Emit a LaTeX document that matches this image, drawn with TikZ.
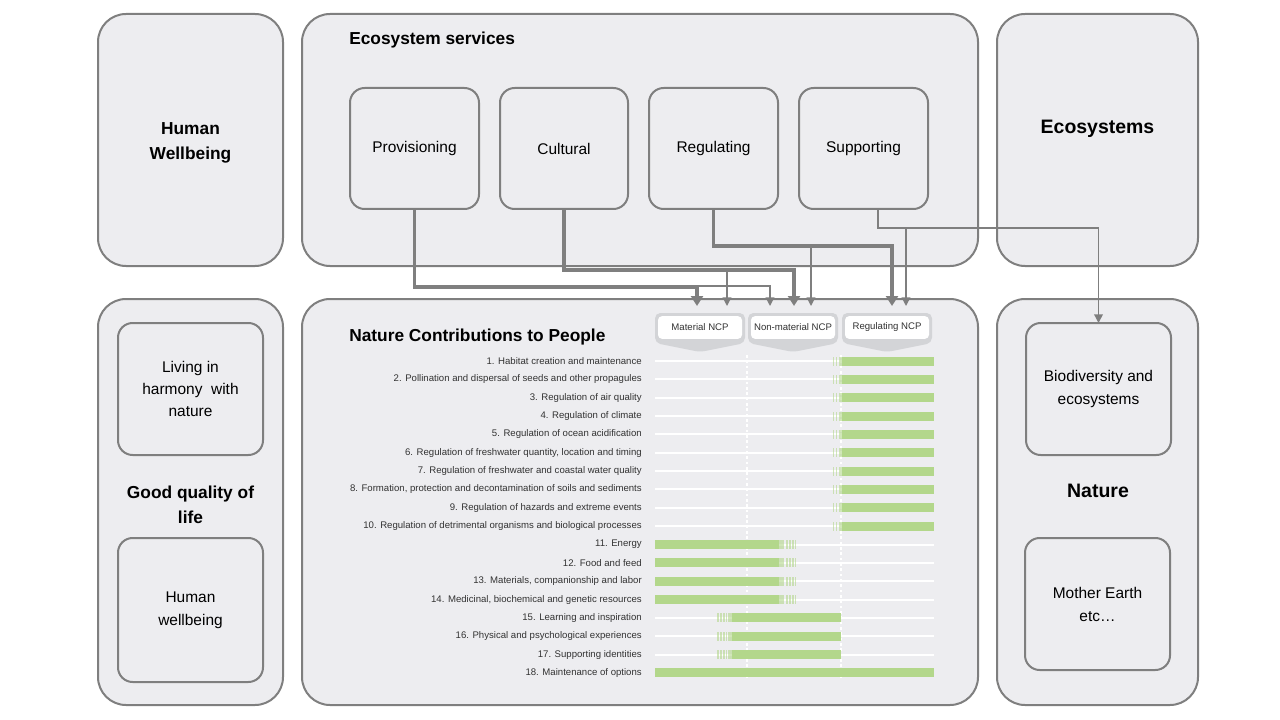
\documentclass[tikz,border=0pt]{standalone}
\usepackage{fontspec}
\setmainfont{Liberation Sans}
\usetikzlibrary{arrows.meta,calc}

\definecolor{boxgray}{RGB}{237,237,240}
\definecolor{linegray}{RGB}{127,127,127}
\definecolor{tabgray}{RGB}{211,212,215}
\definecolor{ncpgreen}{RGB}{179,215,139}
\definecolor{labgray}{RGB}{50,50,50}

\tikzset{
	bigbox/.style={draw=linegray, fill=boxgray, line width=1.5pt, rounded corners=21pt, outer sep=0pt, inner sep=0pt},
	inbox/.style={draw=linegray, fill=boxgray, line width=1.5pt, rounded corners=11pt, outer sep=0pt, inner sep=2pt, align=center, font=\fontsize{11.6}{16.5}\selectfont},
	headtext/.style={font=\bfseries\fontsize{13}{18.75}\selectfont, align=center, inner sep=0pt},
	maintext/.style={font=\bfseries\fontsize{14.6}{18}\selectfont, inner sep=0pt},
	ncplabel/.style={anchor=east, inner sep=0pt, text=labgray, font=\fontsize{7.2}{8}\selectfont},
	ncptab/.style={fill=white, rounded corners=3pt, minimum width=63pt, minimum height=17pt, inner sep=0pt, text=labgray, font=\fontsize{7.2}{8}\selectfont},
	flowthick/.style={draw=linegray, line width=2.6pt, -{Triangle[width=9pt,length=7.5pt]}},
	flowthin/.style={draw=linegray, line width=1.1pt, -{Triangle[width=6.5pt,length=6.5pt]}},
	rowline/.style={draw=white, line width=1.5pt},
	greenbar/.style={fill=ncpgreen},
	greenfade/.style={fill=ncpgreen, fill opacity=0.6}
}

\begin{document}
\begin{tikzpicture}[x=0.75pt,y=0.75pt,yscale=-1,xscale=1]
	\useasboundingbox (0,0) rectangle (1280,720);
	
	%Shape: big boxes
	\node[bigbox, minimum width=138.75pt, minimum height=189pt] (hwb) at (190.5,140) {};
	\node[bigbox, minimum width=507pt, minimum height=189pt] (ess) at (640,140) {};
	\node[bigbox, minimum width=150.75pt, minimum height=189pt] (eco) at (1097.5,140) {};
	\node[bigbox, minimum width=138.75pt, minimum height=304.5pt] (gql) at (190.5,502) {};
	\node[bigbox, minimum width=507pt, minimum height=304.5pt] (ncp) at (640,502) {};
	\node[bigbox, minimum width=150.75pt, minimum height=304.5pt] (nat) at (1097.5,502) {};
	
	% Text Node
	\node[headtext] (hwbt) at (190.5,142.5) {Human\\Wellbeing};
	\node[headtext, anchor=west] (esst) at (349,40) {Ecosystem services};
	\node[maintext] (ecot) at (1097.5,129) {Ecosystems};
	\node[headtext] (gqlt) at (190.5,505) {Good quality of\\life};
	\node[headtext, anchor=west] (ncpt) at (349,337) {Nature Contributions to People};
	\node[maintext] (natt) at (1098,490.5) {Nature};
	
	%Shape: inner boxes
	\node[inbox, minimum width=96.75pt, minimum height=90.75pt] (prov) at (414.5,148.5) {Provisioning};
	\node[inbox, minimum width=96pt, minimum height=90.75pt] (cult) at (564,148.5) {Cultural};
	\node[inbox, minimum width=96.75pt, minimum height=90.75pt] (regu) at (713.5,148.5) {Regulating};
	\node[inbox, minimum width=96.75pt, minimum height=90.75pt] (supp) at (863.5,148.5) {Supporting};
	\node[inbox, minimum width=108.75pt, minimum height=99pt] (liv) at (190.5,389) {Living in\\harmony \ with\\nature};
	\node[inbox, minimum width=108.75pt, minimum height=108pt, font=\fontsize{11.6}{17.25}\selectfont] (hwi) at (190.5,610) {Human\\wellbeing};
	\node[inbox, minimum width=108.75pt, minimum height=99pt, font=\fontsize{11.6}{17.25}\selectfont] (bio) at (1098.5,389) {Biodiversity and\\ecosystems};
	\node[inbox, minimum width=108.75pt, minimum height=99pt, font=\fontsize{11.6}{17.25}\selectfont] (mot) at (1097.5,604) {Mother Earth\\etc\dots};
	
	%Shape: NCP tabs
	\fill[tabgray, rounded corners=4pt] (655,343) -- (655,313) -- (745,313) -- (745,343) -- (700,352) -- cycle;
	\fill[tabgray, rounded corners=4pt] (748,343) -- (748,313) -- (838,313) -- (838,343) -- (793,352) -- cycle;
	\fill[tabgray, rounded corners=4pt] (842,343) -- (842,313) -- (932,313) -- (932,343) -- (887,352) -- cycle;
	\node[ncptab] (matncp) at (700,327.5) {Material NCP};
	\node[ncptab] (nonncp) at (793,327.5) {Non-material NCP};
	\node[ncptab] (regncp) at (887,327.5) {Regulating NCP};
	
	% arrow ends above the tabs
	\coordinate (inM1) at (697,306);
	\coordinate (inM2) at (727,306);
	\coordinate (inN1) at (770,306);
	\coordinate (inN2) at (794,306);
	\coordinate (inN3) at (811,306);
	\coordinate (inR1) at (892,306);
	\coordinate (inR2) at (906,306);
	
	%Curve Lines: services to NCP
	\draw[flowthin] ($(prov.south)+(0,77)$) -| (inN1);
	\draw[flowthick] (prov.south) -- ++(0,78) -| (inM1);
	\draw[flowthin] (cult.south) ++(0,61) -| (inM2);
	\draw[flowthick] (cult.south) -- ++(0,61) -| (inN2);
	\draw[flowthin] (regu.south) ++(0,37) -| (inN3);
	\draw[flowthick] (regu.south) -- ++(0,37) -| (inR1);
	\draw[flowthin] ($(supp.south)+(14.5,0)$) -- ++(0,19) -| (bio.north);
	\draw[flowthin] ($(supp.south)+(14.5,0)$) ++(0,19) -| (inR2);
	
	%Straight Lines: chart grid
	\foreach \r in {1,...,18}
		\draw[rowline] (655,{361+(\r-1)*18.35}) -- (934,{361+(\r-1)*18.35});
	\draw[white, line width=1.2pt, dash pattern=on 2pt off 2pt] (747,355) -- (747,680);
	\draw[white, line width=1.2pt, dash pattern=on 2pt off 2pt] (841,355) -- (841,680);
	
	%Shape: green bars
	\foreach \r in {1,...,10} {
		\fill[greenbar] (842,{356.5+(\r-1)*18.35}) rectangle (934,{365.5+(\r-1)*18.35});
		\fill[greenfade] (838.5,{356.5+(\r-1)*18.35}) rectangle (842,{365.5+(\r-1)*18.35});
		\fill[greenfade] (835.5,{356.5+(\r-1)*18.35}) rectangle (837.2,{365.5+(\r-1)*18.35});
		\fill[greenfade] (832.5,{356.5+(\r-1)*18.35}) rectangle (834.2,{365.5+(\r-1)*18.35});
	}
	\foreach \r in {11,...,14} {
		\fill[greenbar] (655,{356.5+(\r-1)*18.35}) rectangle (779,{365.5+(\r-1)*18.35});
		\fill[greenfade] (779,{356.5+(\r-1)*18.35}) rectangle (784,{365.5+(\r-1)*18.35});
		\foreach \s in {786,789,792,794.5}
			\fill[greenfade] (\s,{356.5+(\r-1)*18.35}) rectangle (\s+1.5,{365.5+(\r-1)*18.35});
	}
	\foreach \r in {15,...,17} {
		\fill[greenbar] (732,{356.5+(\r-1)*18.35}) rectangle (841,{365.5+(\r-1)*18.35});
		\fill[greenfade] (727.5,{356.5+(\r-1)*18.35}) rectangle (732,{365.5+(\r-1)*18.35});
		\foreach \s in {717,720,723,725.5}
			\fill[greenfade] (\s,{356.5+(\r-1)*18.35}) rectangle (\s+1.5,{365.5+(\r-1)*18.35});
	}
	\fill[greenbar] (655,668.45) rectangle (934,677.45);
	
	% Text Node: NCP list
	\node[ncplabel] (n1) at (642,361) {1. Habitat creation and maintenance};
	\node[ncplabel] (n2) at (642,379.35) {2. Pollination and dispersal of seeds and other propagules};
	\node[ncplabel] (n3) at (642,397.7) {3. Regulation of air quality};
	\node[ncplabel] (n4) at (642,416.05) {4. Regulation of climate};
	\node[ncplabel] (n5) at (642,434.4) {5. Regulation of ocean acidification};
	\node[ncplabel] (n6) at (642,452.75) {6. Regulation of freshwater quantity, location and timing};
	\node[ncplabel] (n7) at (642,471.1) {7. Regulation of freshwater and coastal water quality};
	\node[ncplabel] (n8) at (642,489.45) {8. Formation, protection and decontamination of soils and sediments};
	\node[ncplabel] (n9) at (642,507.8) {9. Regulation of hazards and extreme events};
	\node[ncplabel] (n10) at (642,526.15) {10. Regulation of detrimental organisms and biological processes};
	\node[ncplabel] (n11) at (642,544.5) {11. Energy};
	\node[ncplabel] (n12) at (642,562.85) {12. Food and feed};
	\node[ncplabel] (n13) at (642,581.2) {13. Materials, companionship and labor};
	\node[ncplabel] (n14) at (642,599.55) {14. Medicinal, biochemical and genetic resources};
	\node[ncplabel] (n15) at (642,617.9) {15. Learning and inspiration};
	\node[ncplabel] (n16) at (642,636.25) {16. Physical and psychological experiences};
	\node[ncplabel] (n17) at (642,654.6) {17. Supporting identities};
	\node[ncplabel] (n18) at (642,672.95) {18. Maintenance of options};
	
\end{tikzpicture}
\end{document}
